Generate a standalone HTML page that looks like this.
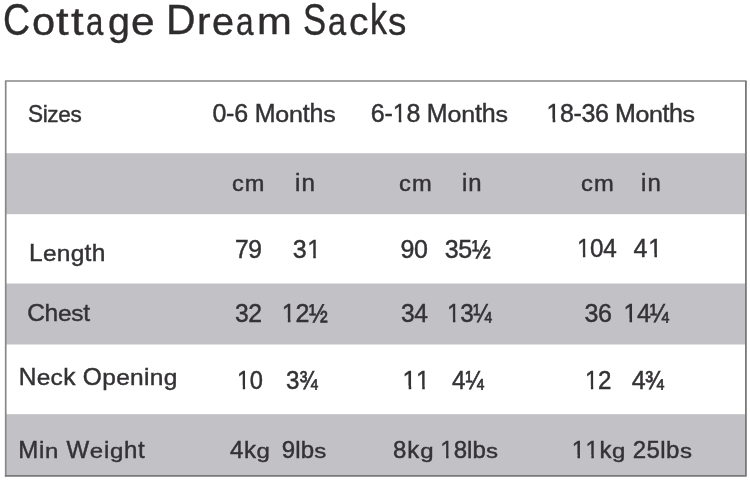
<!DOCTYPE html>
<html><head><meta charset="utf-8"><title>Cottage Dream Sacks</title>
<style>
html,body{margin:0;padding:0;background:#fff;}
body{width:750px;height:482px;position:relative;overflow:hidden;font-family:"Liberation Sans",sans-serif;color:#343235;}
svg{position:absolute;left:0;top:0;}
span{position:absolute;white-space:nowrap;line-height:1;transform-origin:0 0;-webkit-text-stroke:0.45px #343235;filter:blur(0.5px);}
h1{margin:0;font-size:0;font-weight:normal;}
h1 span{color:#2f2c2e;-webkit-text-stroke:0.35px #2f2c2e;transform-origin:0 0;}
i{font-style:normal;display:inline-block;clip-path:polygon(0 0,.345em 0,.345em 100%,.245em 100%,.245em .71em,0 .71em);}
u{text-decoration:none;display:inline-block;transform:scaleY(.87);transform-origin:0 83.5%;}
b{font-weight:normal;-webkit-text-stroke-width:.7px;display:inline-block;transform:scaleX(.9);transform-origin:0 50%;}
</style></head><body>
<svg width="750" height="482" viewBox="0 0 750 482">
<rect x="5.7" y="81" width="740.2" height="394.4" fill="#ffffff"/>
<rect x="5.7" y="153.2" width="740.2" height="61" fill="#c2c1c6"/>
<rect x="5.7" y="283.5" width="740.2" height="61" fill="#c2c1c6"/>
<rect x="5.7" y="414.2" width="740.2" height="61.6" fill="#c2c1c6"/>
<path d="M5.7 476.6V81H746.6" fill="none" stroke="#888888" stroke-width="1.7"/>
<path d="M745.9 81V475.8H4.9" fill="none" stroke="#787878" stroke-width="1.8"/>
</svg>
<h1><span id="t00" style="left:2.62px;top:-1.36px;font-size:42px;transform:scale(0.8950,1.0348)">C</span><span id="t01" style="left:31.67px;top:2.97px;font-size:38px;transform:scale(1.0917,0.9996)">o</span><span id="t02" style="left:56.27px;top:2.52px;font-size:38px;transform:scale(1.1972,1.0013)">t</span><span id="t03" style="left:71.36px;top:2.50px;font-size:38px;transform:scale(1.1985,1.0028)">t</span><span id="t04" style="left:86.36px;top:2.71px;font-size:38px;transform:scale(0.8200,0.9999)">a</span><span id="t05" style="left:107.85px;top:3.35px;font-size:38px;transform:scale(1.0402,0.9995)">g</span><span id="t06" style="left:130.57px;top:2.69px;font-size:38px;transform:scale(1.1185,1.0007)">e</span> <span id="t07" style="left:166.46px;top:-0.64px;font-size:42px;transform:scale(0.9759,1.0019)">D</span><span id="t08" style="left:196.89px;top:4.00px;font-size:38px;transform:scale(1.0718,0.9511)">r</span><span id="t09" style="left:211.92px;top:2.76px;font-size:38px;transform:scale(1.0432,1.0095)">e</span><span id="t10" style="left:235.60px;top:2.92px;font-size:38px;transform:scale(0.8317,1.0054)">a</span><span id="t11" style="left:256.64px;top:4.00px;font-size:38px;transform:scale(1.0994,0.9511)">m</span> <span id="t12" style="left:302.87px;top:-1.37px;font-size:42px;transform:scale(0.8262,1.0349)">S</span><span id="t13" style="left:327.51px;top:2.81px;font-size:38px;transform:scale(0.8577,1.0065)">a</span><span id="t14" style="left:349.47px;top:2.57px;font-size:38px;transform:scale(1.0231,1.0093)">c</span><span id="t15" style="left:370.18px;top:-1.61px;font-size:38px;transform:scale(0.8968,1.1255)">k</span><span id="t16" style="left:388.24px;top:2.02px;font-size:38px;transform:scale(0.9672,1.0218)">s</span></h1>
<span id="a0" style="left:28.38px;top:102.00px;font-size:24.5px;letter-spacing:-0.400px;transform:scale(0.9218,1.0000)">Si<u>zes</u></span>
<span id="a1" style="left:212.42px;top:101.00px;font-size:25px;letter-spacing:-0.195px">0-6 M<u>on</u>th<u>s</u></span>
<span id="a2" style="left:370.81px;top:101.00px;font-size:25px;letter-spacing:-0.188px">6-<i>1</i>8 M<u>on</u>th<u>s</u></span>
<span id="a3" style="left:546.60px;top:101.00px;font-size:25px;letter-spacing:-0.400px"><i>1</i>8-36 M<u>on</u>th<u>s</u></span>
<span id="b1" style="left:232.40px;top:173.00px;font-size:22px;letter-spacing:1.000px;transform:scale(1.0693,1.0000)">cm</span>
<span id="b2" style="left:295.37px;top:172.00px;font-size:23px;letter-spacing:1.000px;transform:scale(1.0501,1.0000)">in</span>
<span id="b3" style="left:398.59px;top:173.00px;font-size:22px;letter-spacing:1.000px;transform:scale(1.0766,1.0000)">cm</span>
<span id="b4" style="left:462.08px;top:172.00px;font-size:23px;letter-spacing:1.000px;transform:scale(1.0395,1.0000)">in</span>
<span id="b5" style="left:581.24px;top:173.00px;font-size:22px;letter-spacing:1.000px;transform:scale(1.0784,1.0000)">cm</span>
<span id="b6" style="left:640.61px;top:172.00px;font-size:23px;letter-spacing:1.000px;transform:scale(1.0434,1.0000)">in</span>
<span id="c0" style="left:29.05px;top:241.00px;font-size:24.5px;letter-spacing:0.250px">L<u>eng</u>th</span>
<span id="c1" style="left:235.26px;top:237.00px;font-size:25px;letter-spacing:-0.400px;transform:scale(0.9843,1.0000)">79</span>
<span id="c2" style="left:292.63px;top:237.00px;font-size:25px;letter-spacing:0.608px">3<i>1</i></span>
<span id="c3" style="left:400.38px;top:237.00px;font-size:25px;letter-spacing:-0.400px">90</span>
<span id="c4" style="left:444.67px;top:237.00px;font-size:25px;letter-spacing:-0.220px">35<b>½</b></span>
<span id="c5" style="left:576.82px;top:236.00px;font-size:25px;letter-spacing:-0.400px;transform:scale(0.9705,1.0000)"><i>1</i>04</span>
<span id="c6" style="left:633.62px;top:236.00px;font-size:25px;letter-spacing:0.804px">4<i>1</i></span>
<span id="d0" style="left:27.21px;top:301.00px;font-size:24.5px;letter-spacing:-0.310px">Ch<u>es</u>t</span>
<span id="d1" style="left:235.28px;top:301.00px;font-size:25px;letter-spacing:-0.400px;transform:scale(0.9878,1.0000)">32</span>
<span id="d2" style="left:281.77px;top:301.00px;font-size:25px;letter-spacing:-0.191px"><i>1</i>2<b>½</b></span>
<span id="d3" style="left:401.43px;top:301.00px;font-size:25px;letter-spacing:-0.400px;transform:scale(0.9834,1.0000)">34</span>
<span id="d4" style="left:446.54px;top:301.00px;font-size:25px;letter-spacing:-0.400px;transform:scale(0.9736,1.0000)"><i>1</i>3<b>¼</b></span>
<span id="d5" style="left:584.46px;top:301.00px;font-size:25px;letter-spacing:-0.400px">36</span>
<span id="d6" style="left:623.43px;top:301.00px;font-size:25px;letter-spacing:-0.400px"><i>1</i>4<b>¼</b></span>
<span id="e0" style="left:18.68px;top:365.00px;font-size:24.5px;letter-spacing:0.308px">N<u>ec</u>k O<u>pen</u>i<u>ng</u></span>
<span id="e1" style="left:236.82px;top:368.00px;font-size:25px;letter-spacing:-0.400px;transform:scale(0.9480,1.0000)"><i>1</i>0</span>
<span id="e2" style="left:286.44px;top:368.00px;font-size:25px;letter-spacing:-0.400px;transform:scale(0.9667,1.0000)">3<b>¾</b></span>
<span id="e3" style="left:402.60px;top:368.00px;font-size:25px;letter-spacing:-0.400px"><i>1</i><i>1</i></span>
<span id="e4" style="left:451.74px;top:368.00px;font-size:25px;letter-spacing:-0.400px;transform:scale(0.9724,1.0000)">4<b>¼</b></span>
<span id="e5" style="left:584.75px;top:368.00px;font-size:25px;letter-spacing:-0.400px;transform:scale(0.9634,1.0000)"><i>1</i>2</span>
<span id="e6" style="left:631.84px;top:368.00px;font-size:25px;letter-spacing:-0.400px">4<b>¾</b></span>
<span id="f0" style="left:18.20px;top:438.00px;font-size:24px;letter-spacing:0.721px">Mi<u>n</u> W<u>e</u>i<u>g</u>ht</span>
<span id="f1" style="left:229.99px;top:438.00px;font-size:24px;letter-spacing:0.577px">4k<u>g</u></span>
<span id="f2" style="left:281.72px;top:438.00px;font-size:24px;letter-spacing:0.142px">9lb<u>s</u></span>
<span id="f3" style="left:393.00px;top:438.00px;font-size:24px;letter-spacing:1.000px">8k<u>g</u></span>
<span id="f4" style="left:440.23px;top:438.00px;font-size:24px;letter-spacing:0.103px"><i>1</i>8lb<u>s</u></span>
<span id="f5" style="left:571.70px;top:438.00px;font-size:24px;letter-spacing:0.517px"><i>1</i><i>1</i>k<u>g</u></span>
<span id="f6" style="left:632.77px;top:438.00px;font-size:24px;letter-spacing:0.430px">25lb<u>s</u></span>
</body></html>
